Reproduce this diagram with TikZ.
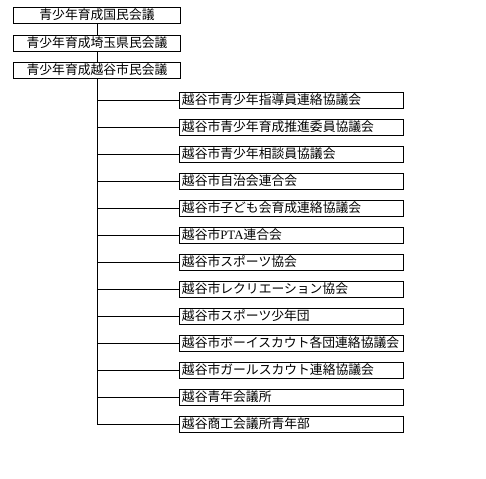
\documentclass[tikz,border=0pt]{standalone}
\usepackage{fontspec}
\setmainfont{Noto Sans CJK JP}
\newfontfamily\latinserif{Liberation Serif}

\tikzset{
  topbox/.style={draw, line width=0.9pt, minimum width=167pt, minimum height=16pt,
    inner sep=0pt, font=\fontsize{12.8}{14}\selectfont},
  orgbox/.style={draw, line width=0.9pt, anchor=west, text width=219pt, align=left,
    inner xsep=2.5pt, inner ysep=0pt, minimum height=16pt, font=\fontsize{12.8}{14}\selectfont},
  link/.style={line width=0.9pt}
}

\begin{document}
\begin{tikzpicture}[x=1pt, y=-1pt]
  \useasboundingbox (0,0) rectangle (486,478);

  % upper councils
  \node[topbox] (national) at (97,15) {青少年育成国民会議};
  \node[topbox] (saitama)  at (97,43) {青少年育成埼玉県民会議};
  \node[topbox] (koshigaya) at (97,70) {青少年育成越谷市民会議};

  \draw[link] (national) -- (saitama);
  \draw[link] (saitama) -- (koshigaya);

  % member groups
  \node[orgbox] (g1)  at (179,100) {越谷市青少年指導員連絡協議会};
  \node[orgbox] (g2)  at (179,127) {越谷市青少年育成推進委員協議会};
  \node[orgbox] (g3)  at (179,154) {越谷市青少年相談員協議会};
  \node[orgbox] (g4)  at (179,181) {越谷市自治会連合会};
  \node[orgbox] (g5)  at (179,208) {越谷市子ども会育成連絡協議会};
  \node[orgbox] (g6)  at (179,235) {越谷市{\latinserif PTA}連合会};
  \node[orgbox] (g7)  at (179,262) {越谷市スポーツ協会};
  \node[orgbox] (g8)  at (179,289) {越谷市レクリエーション協会};
  \node[orgbox] (g9)  at (179,316) {越谷市スポーツ少年団};
  \node[orgbox] (g10) at (179,343) {越谷市ボーイスカウト各団連絡協議会};
  \node[orgbox] (g11) at (179,370) {越谷市ガールスカウト連絡協議会};
  \node[orgbox] (g12) at (179,397) {越谷青年会議所};
  \node[orgbox] (g13) at (179,424) {越谷商工会議所青年部};

  \foreach \g in {g1,g2,g3,g4,g5,g6,g7,g8,g9,g10,g11,g12,g13}
    \draw[link] (koshigaya.south) |- (\g.west);
\end{tikzpicture}
\end{document}
